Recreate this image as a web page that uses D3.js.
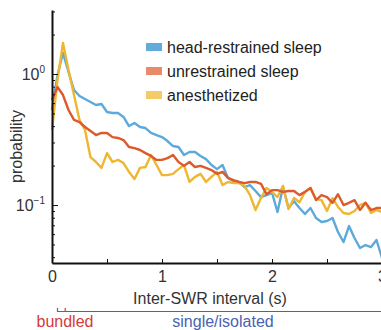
<!DOCTYPE html>
<html><head><meta charset="utf-8">
<script src="https://cdn.jsdelivr.net/npm/d3@7"></script>
<style>
html,body{margin:0;padding:0;background:#fff;}
svg{display:block;font-family:"Liberation Sans",Arial,Helvetica,sans-serif;}
</style></head>
<body><svg id="c" width="381" height="330"></svg>
<script>
// bin times (s)
const times = d3.range(61).map(i => +(i * 0.05).toFixed(2));
const seriesNames = ["head-restrained sleep", "unrestrained sleep", "anesthetized"];
const headRestrained = [0.531,0.983,1.446,1.036,0.755,0.679,0.644,0.611,0.580,0.590,
0.513,0.504,0.504,0.470,0.401,0.423,0.394,0.387,0.355,0.342,
0.330,0.308,0.282,0.277,0.241,0.254,0.254,0.237,0.224,0.202,
0.188,0.202,0.161,0.152,0.150,0.137,0.142,0.128,0.115,0.119,
0.124,0.0885,0.137,0.0949,0.107,0.0949,0.0854,0.0949,0.0796,0.0742,
0.0755,0.0796,0.0622,0.0522,0.0691,0.0560,0.0470,0.0495,0.0478,0.0541,0.0394];
const unrestrained = [0.633,0.796,0.691,0.531,0.446,0.430,0.394,0.367,0.342,0.355,
0.355,0.330,0.325,0.313,0.277,0.272,0.263,0.249,0.237,0.221,
0.221,0.228,0.241,0.213,0.199,0.213,0.195,0.199,0.192,0.185,
0.173,0.179,0.161,0.155,0.150,0.147,0.150,0.150,0.145,0.121,
0.130,0.130,0.126,0.128,0.128,0.119,0.126,0.135,0.109,0.119,
0.115,0.104,0.121,0.100,0.104,0.109,0.0916,0.104,0.0916,0.0949,0.0949];
const anesthetized = [0.374,0.900,1.724,1.073,0.691,0.446,0.374,0.232,0.213,0.192,
0.249,0.213,0.221,0.209,0.179,0.158,0.192,0.195,0.241,0.202,
0.169,0.169,0.173,0.188,0.202,0.150,0.164,0.173,0.150,0.164,
0.179,0.142,0.150,0.147,0.147,0.140,0.119,0.0916,0.113,0.135,
0.126,0.115,0.140,0.0932,0.113,0.105,0.126,0.135,0.111,0.109,
0.0900,0.113,0.0966,0.0869,0.0854,0.0900,0.100,0.104,0.0869,0.0916,0.0885];
const xTicks = [0, 0.5, 1, 1.5, 2, 2.5, 3];
const xTickLabels = ["0", "", "1", "", "2", "", "3"];
const yMajor = [1, 0.1];
const yMinor = [3, 2, 0.9, 0.8, 0.7, 0.6, 0.5, 0.4, 0.3, 0.2, 0.09, 0.08, 0.07, 0.06, 0.05, 0.04];
const bundledRange = [0.05, 0.12];
const singleRange = [0.12, 3];

const lineColors = ["#5ca9db", "#dc5a2c", "#efb731"];
const swatchColors = ["#62abda", "#e98a6c", "#f4cb68"];

const svg = d3.select("#c");
const x = d3.scaleLinear().domain([0, 3]).range([52, 382]);
const y = d3.scaleLog().domain([0.0361, 3.08]).range([263, 10]);

const data = [headRestrained, unrestrained, anesthetized];
const line = d3.line().x((d, i) => x(times[i])).y(d => y(d));
const order = [0, 2, 1];
order.forEach(k => {
  svg.append("path").datum(data[k]).attr("d", line)
    .attr("fill", "none").attr("stroke", lineColors[k])
    .attr("stroke-width", 2.4).attr("stroke-linejoin", "round");
});

// axes
const ax = svg.append("g").attr("transform", "translate(0,263)")
  .call(d3.axisBottom(x).tickValues(xTicks).tickFormat((d, i) => xTickLabels[i]).tickSize(-4).tickSizeOuter(0).tickPadding(8));
ax.select(".domain").attr("stroke", "#111").attr("stroke-width", 2);
ax.selectAll(".tick line").attr("stroke", "#111").attr("stroke-width", 1);
ax.selectAll(".tick text").attr("font-size", 16).attr("fill", "#333").attr("font-family", "Liberation Sans, Arial, sans-serif");

const ay = svg.append("g").attr("transform", "translate(52,0)")
  .call(d3.axisLeft(y).tickValues(yMajor).tickFormat(() => "").tickSize(-6).tickSizeOuter(0));
ay.select(".domain").attr("stroke", "#111").attr("stroke-width", 2);
ay.selectAll(".tick line").attr("stroke", "#111").attr("stroke-width", 1);
const ayMinor = svg.append("g").attr("transform", "translate(52,0)")
  .call(d3.axisLeft(y).tickValues(yMinor).tickFormat(() => "").tickSize(-3).tickSizeOuter(0));
ayMinor.select(".domain").remove();
ayMinor.selectAll(".tick line").attr("stroke", "#111").attr("stroke-width", 1);

// y tick labels 10^0, 10^-1
const yLab = [["0", 1], ["-1", 0.1]];
yLab.forEach(([e, v]) => {
  const t = svg.append("text").attr("x", 45).attr("y", y(v) + 6)
    .attr("text-anchor", "end").attr("font-size", 16).attr("fill", "#333");
  t.append("tspan").text("10");
  t.append("tspan").text(e === "-1" ? "\u22121" : e).attr("font-size", 10).attr("dy", -7);
});

svg.append("text").attr("transform", `translate(22,${y(0.28)}) rotate(-90)`)
  .attr("text-anchor", "middle").attr("font-size", 16).attr("fill", "#333").text("probability");

svg.append("text").attr("x", 210).attr("y", 304).attr("text-anchor", "middle")
  .attr("font-size", 16).attr("fill", "#333").text("Inter-SWR interval (s)");

// legend
const lg = svg.append("g");
seriesNames.forEach((n, i) => {
  const yy = 47 + i * 24;
  lg.append("rect").attr("x", 146).attr("y", yy - 4).attr("width", 16).attr("height", 8).attr("fill", swatchColors[i]);
  lg.append("text").attr("x", 167).attr("y", yy + 5.5).attr("font-size", 16).attr("fill", "#222").text(n);
});

// annotation
const red = "#d43a3a", blue = "#4a62b2";
svg.append("path").attr("d", `M${x(bundledRange[0])},308V311.5H${x(bundledRange[1])}V308`)
  .attr("fill", "none").attr("stroke", red).attr("stroke-width", 1.2);
svg.append("path").attr("d", `M${x(singleRange[0])},311.5H${x(singleRange[1])}V308`)
  .attr("fill", "none").attr("stroke", blue).attr("stroke-width", 1.2);
svg.append("text").attr("x", 65).attr("y", 327).attr("text-anchor", "middle")
  .attr("font-size", 16).attr("fill", red).text("bundled");
svg.append("text").attr("x", 223).attr("y", 327).attr("text-anchor", "middle")
  .attr("font-size", 16).attr("fill", blue).text("single/isolated");
</script></body></html>
